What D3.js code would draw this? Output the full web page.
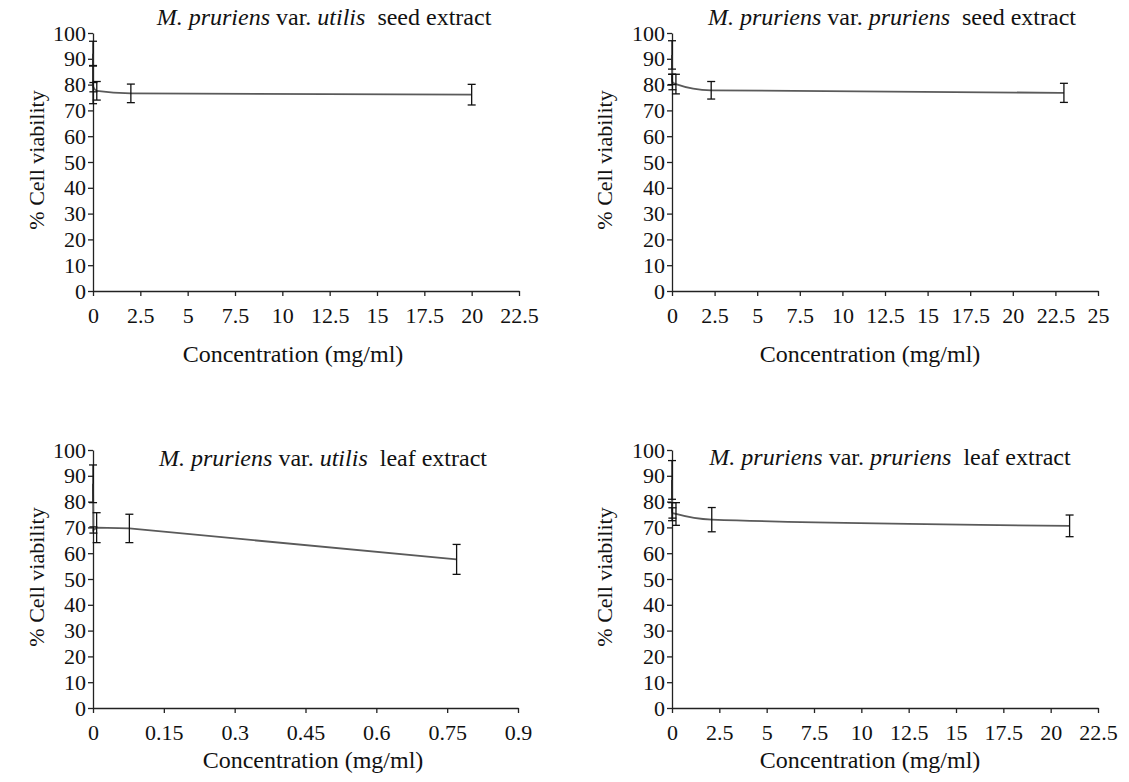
<html>
<head>
<script src="https://cdnjs.cloudflare.com/ajax/libs/d3/7.8.5/d3.min.js"></script>
<style>
body {
    margin: 0;
    background: white;
}
#canvas text {
    font-family: "Liberation Serif", "DejaVu Serif", serif;
    fill: #111;
}
</style>
</head>
<body>
<svg id="canvas" width="1129" height="782"></svg>
<script>
// ---- data ----
var yTicks = [0, 10, 20, 30, 40, 50, 60, 70, 80, 90, 100];

var xTicksUtilisSeed = [0, 2.5, 5, 7.5, 10, 12.5, 15, 17.5, 20, 22.5];
var concUtilisSeed = [0.0002, 0.002, 0.02, 0.2, 2, 20];
var meanUtilisSeed = [92, 80, 79, 77.6, 76.6, 76.1];
var sdUtilisSeed   = [4.8, 7.4, 1.8, 3.6, 3.6, 4];

var xTicksPruriensSeed = [0, 2.5, 5, 7.5, 10, 12.5, 15, 17.5, 20, 22.5, 25];
var concPruriensSeed = [0.00023, 0.0023, 0.023, 0.23, 2.3, 23];
var meanPruriensSeed = [91.5, 82, 81, 80.2, 77.8, 76.8];
var sdPruriensSeed   = [5.5, 2, 3, 3.8, 3.4, 3.7];

var xTicksUtilisLeaf = [0, 0.15, 0.3, 0.45, 0.6, 0.75, 0.9];
var concUtilisLeaf = [0.000077, 0.00077, 0.0077, 0.077, 0.77];
var meanUtilisLeaf = [86.9, 69, 69.9, 69.6, 57.6];
var sdUtilisLeaf   = [7.3, 1.2, 5.8, 5.5, 5.8];

var xTicksPruriensLeaf = [0, 2.5, 5, 7.5, 10, 12.5, 15, 17.5, 20, 22.5];
var concPruriensLeaf = [0.00021, 0.0021, 0.021, 0.21, 2.1, 21];
var meanPruriensLeaf = [88.4, 76.1, 75.6, 75.2, 73, 70.6];
var sdPruriensLeaf   = [7.5, 3.5, 2, 4.4, 4.7, 4.2];

// ---- layout ----
var panels = [
    {conc: concUtilisSeed, mean: meanUtilisSeed, sd: sdUtilisSeed, xTicks: xTicksUtilisSeed,
     left: 93, right: 519, top: 33, bottom: 291, variety: "utilis", part: "seed", smooth: true,
     titleX: 324, titleY: 25, xlabX: 293, xlabY: 362, ylabX: 44},
    {conc: concPruriensSeed, mean: meanPruriensSeed, sd: sdPruriensSeed, xTicks: xTicksPruriensSeed,
     left: 672, right: 1098, top: 33, bottom: 291, variety: "pruriens", part: "seed", smooth: true,
     titleX: 892, titleY: 25, xlabX: 870, xlabY: 362, ylabX: 612},
    {conc: concUtilisLeaf, mean: meanUtilisLeaf, sd: sdUtilisLeaf, xTicks: xTicksUtilisLeaf,
     left: 93, right: 518, top: 450, bottom: 708, variety: "utilis", part: "leaf", smooth: false,
     titleX: 323, titleY: 466, xlabX: 313, xlabY: 768, ylabX: 44},
    {conc: concPruriensLeaf, mean: meanPruriensLeaf, sd: sdPruriensLeaf, xTicks: xTicksPruriensLeaf,
     left: 672, right: 1098, top: 450, bottom: 708, variety: "pruriens", part: "leaf", smooth: true,
     titleX: 890, titleY: 465, xlabX: 870, xlabY: 768, ylabX: 612}
];

var svg = d3.select("#canvas");

function drawPanel(p) {
    var g = svg.append("g");
    var xMax = p.xTicks[p.xTicks.length - 1];
    var x = d3.scaleLinear().domain([0, xMax]).range([p.left, p.right]);
    var y = d3.scaleLinear().domain([0, 100]).range([p.bottom, p.top]);

    // axes
    var ya = g.append("g").attr("transform", "translate(" + p.left + ",0)")
        .call(d3.axisLeft(y).tickValues(yTicks).tickFormat(String)
            .tickSize(5).tickSizeOuter(0).tickPadding(2));
    var xa = g.append("g").attr("transform", "translate(0," + p.bottom + ")")
        .call(d3.axisBottom(x).tickValues(p.xTicks).tickFormat(String)
            .tickSize(5).tickSizeOuter(0).tickPadding(11));
    [ya, xa].forEach(function(a) {
        a.selectAll("path, line").attr("stroke", "#222").attr("stroke-width", 1.3);
        a.selectAll("text").style("font-size", "22px").attr("fill", "#111");
    });

    // line through the means
    var pts = p.conc.map(function(c, i) { return [c, p.mean[i]]; });
    var line = d3.line().x(function(d) { return x(d[0]); }).y(function(d) { return y(d[1]); })
        .curve(p.smooth ? d3.curveMonotoneX : d3.curveLinear);
    g.append("path").datum(pts).attr("d", line)
        .attr("fill", "none").attr("stroke", "#5a5a5a").attr("stroke-width", 1.8);

    // error bars
    var eb = g.selectAll(".eb").data(pts).enter().append("g");
    eb.append("line")
        .attr("x1", function(d) { return x(d[0]); }).attr("x2", function(d) { return x(d[0]); })
        .attr("y1", function(d, i) { return y(d[1] - p.sd[i]); })
        .attr("y2", function(d, i) { return y(d[1] + p.sd[i]); });
    [-1, 1].forEach(function(s) {
        eb.append("line")
            .attr("x1", function(d) { return x(d[0]) - 4; }).attr("x2", function(d) { return x(d[0]) + 4; })
            .attr("y1", function(d, i) { return y(d[1] + s * p.sd[i]); })
            .attr("y2", function(d, i) { return y(d[1] + s * p.sd[i]); });
    });
    eb.selectAll("line").attr("stroke", "#111").attr("stroke-width", 1.3);

    // panel title
    var t = g.append("text").attr("x", p.titleX).attr("y", p.titleY)
        .attr("text-anchor", "middle").style("font-size", "24px").style("white-space", "pre");
    t.append("tspan").style("font-style", "italic").text("M. pruriens");
    t.append("tspan").text(" var. ");
    t.append("tspan").style("font-style", "italic").text(p.variety);
    t.append("tspan").text("  " + p.part + " extract");

    // axis titles
    g.append("text").attr("x", p.xlabX).attr("y", p.xlabY)
        .attr("text-anchor", "middle").style("font-size", "24px")
        .text("Concentration (mg/ml)");
    g.append("text")
        .attr("transform", "translate(" + p.ylabX + "," + ((p.top + p.bottom) / 2 - 2) + ") rotate(-90)")
        .attr("text-anchor", "middle").style("font-size", "22px")
        .text("% Cell viability");
}

panels.forEach(drawPanel);
</script>
</body>
</html>
